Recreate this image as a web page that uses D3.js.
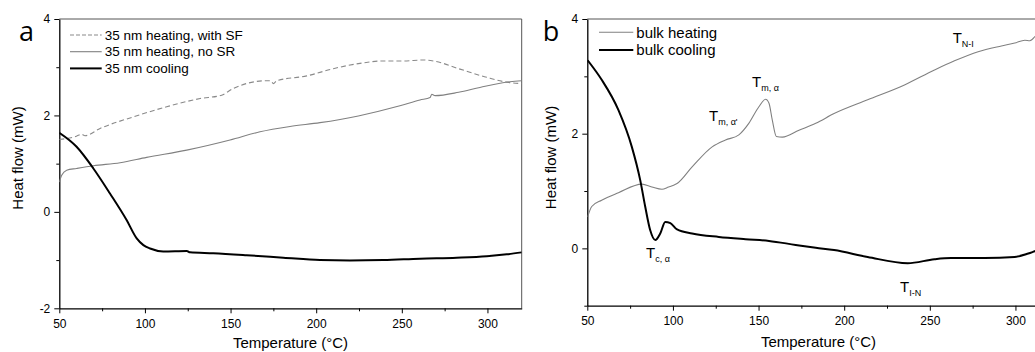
<!DOCTYPE html>
<html><head><meta charset="utf-8">
<script src="https://cdn.jsdelivr.net/npm/d3@7"></script>
<style>
body{margin:0;background:#fff;}
text{font-family:"Liberation Sans",Arial,sans-serif;fill:#000;}
</style></head>
<body><svg id="c" width="1035" height="352"></svg>
<script>
// ---- Panel a data (Temperature °C, Heat flow mW)
const aCoolT = [50,60.1,69.9,79.6,89.3,95.2,99.1,103,110.7,124.4,126.3,139.9,159.4,180.8,202.2,219.7,239.2,260.6,282,299.6,311.3,320];
const aCoolH = [1.64,1.35,0.90,0.38,-0.17,-0.55,-0.69,-0.76,-0.82,-0.81,-0.84,-0.86,-0.90,-0.95,-1.00,-1.01,-1.00,-0.97,-0.95,-0.92,-0.88,-0.84];
const aNoSRT = [50,51.4,54.3,60.1,69.9,85.5,101,124.4,149.7,167.2,184.7,202.2,224.6,248.9,260.6,266.5,267.5,269.4,283.2,295.6,313.2,320];
const aNoSRH = [0.62,0.76,0.865,0.90,0.955,1.02,1.13,1.28,1.49,1.66,1.77,1.85,1.99,2.20,2.32,2.37,2.44,2.41,2.48,2.58,2.70,2.72];
const aSFT = [50,60,63,65,73.8,93.2,112.7,132.2,144.8,151.6,171.1,173.5,175,177,194.5,210,225.6,239.2,250.9,262.6,268.4,284,299.6,311.3,320];
const aSFH = [1.50,1.57,1.61,1.58,1.73,1.97,2.18,2.35,2.42,2.56,2.72,2.72,2.66,2.72,2.82,2.97,3.08,3.13,3.13,3.15,3.13,2.96,2.79,2.69,2.66];
// ---- Panel b data
const bHeatT = [50.2,52.6,58.4,68.2,81.9,87.7,93.6,97.5,100.4,102.4,111.2,122.9,130.7,138.5,144.3,150.2,154.1,156.1,158,160.4,163.9,173.6,183.4,194.1,213.7,235.2,252.7,264.4,278.2,291.8,299.6,305.5,308.4,312.3,320];
const bHeatH = [0.55,0.73,0.84,0.97,1.12,1.07,1.03,1.07,1.10,1.13,1.42,1.77,1.89,1.98,2.18,2.47,2.60,2.53,2.24,1.95,1.94,2.06,2.18,2.35,2.59,2.85,3.11,3.27,3.43,3.53,3.58,3.63,3.62,3.72,3.80];
const bCoolT = [50.2,58.4,68.2,76,80.9,83.8,86.7,89.7,92.6,95.5,98.5,102.4,111.2,126.8,142.4,156.1,171.7,183.4,194.1,213.7,237.1,252.7,262.5,282,299.6,307.5,312.3,320];
const bCoolH = [3.28,2.94,2.41,1.77,1.19,0.73,0.32,0.145,0.26,0.46,0.44,0.33,0.26,0.20,0.16,0.13,0.06,0.01,-0.03,-0.15,-0.26,-0.19,-0.17,-0.17,-0.15,-0.09,-0.04,0.02];
// ---- Axis ticks / labels
const xTicks = [50,100,150,200,250,300];
const xMinor = [75,125,175,225,275];
const aYTicks = [4,2,0,-2];
const aYMinor = [3,1,-1];
const bYTicks = [4,2,0];
const bYMinor = [3,1,-1];
const aLegend = ["35 nm heating, with SF","35 nm heating, no SR","35 nm cooling"];
const bLegend = ["bulk heating","bulk cooling"];

const svg = d3.select("#c");
const defs = svg.append("defs");
const fmt = d => String(d);

function panel(o){
  const g = svg.append("g");
  const x = d3.scaleLinear().domain([50,320]).range([o.x0, o.x0+462.4]);
  const y = d3.scaleLinear().domain(o.yDom).range([o.yb, o.yt]);
  defs.append("clipPath").attr("id","clip"+o.id).append("rect")
    .attr("x",o.x0).attr("y",o.yt).attr("width",462.4).attr("height",o.yb-o.yt);
  // frame top/right
  g.append("line").attr("x1",o.x0).attr("x2",o.x0+462.4).attr("y1",o.yt).attr("y2",o.yt).attr("stroke","#555").attr("stroke-width",1);
  g.append("line").attr("x1",o.x0+462.4).attr("x2",o.x0+462.4).attr("y1",o.yt).attr("y2",o.yb).attr("stroke","#555").attr("stroke-width",1);
  // axes
  g.append("g").attr("transform",`translate(0,${o.yb})`)
    .call(d3.axisBottom(x).tickValues(xTicks).tickFormat(fmt).tickSize(5).tickPadding(6).tickSizeOuter(0));
  g.append("g").attr("transform",`translate(0,${o.yb})`)
    .call(d3.axisBottom(x).tickValues(xMinor).tickSize(3).tickFormat("").tickSizeOuter(0))
    .select(".domain").remove();
  g.append("g").attr("transform",`translate(${o.x0},0)`)
    .call(d3.axisLeft(y).tickValues(o.yTicks).tickFormat(fmt).tickSize(5).tickPadding(4).tickSizeOuter(0));
  g.append("g").attr("transform",`translate(${o.x0},0)`)
    .call(d3.axisLeft(y).tickValues(o.yMinor).tickSize(3).tickFormat("").tickSizeOuter(0))
    .select(".domain").remove();
  g.selectAll(".tick text").style("font-size","12px").style("font-family","'Liberation Sans',Arial,sans-serif");
  g.selectAll(".domain").attr("stroke","#000").attr("stroke-width",1.3);
  g.selectAll(".tick line").attr("stroke","#000").attr("stroke-width",1);
  // titles
  g.append("text").attr("x",o.x0+231.2).attr("y",o.xtY).attr("text-anchor","middle").style("font-size","15px").text("Temperature (°C)");
  g.append("text").attr("transform",`translate(${o.ytX},${o.ytY}) rotate(-90)`).attr("text-anchor","middle").style("font-size","15px").text("Heat flow (mW)");
  g.append("text").attr("x",o.lx).attr("y",40.5).style("font-family","'Open Sans',sans-serif").style("font-size","27px").text(o.letter);
  const line = d3.line().x(d=>x(d[0])).y(d=>y(d[1])).curve(d3.curveMonotoneX);
  const plot = g.append("g").attr("clip-path",`url(#clip${o.id})`);
  o.series.forEach(s=>{
    const pts = s.t.map((t,i)=>[t,s.h[i]]);
    plot.append("path").attr("d",line(pts)).attr("fill","none")
      .attr("stroke",s.color).attr("stroke-width",s.w).attr("stroke-dasharray",s.dash||null);
  });
  // legend
  o.series.forEach((s,i)=>{
    const yy = o.legY + i*o.legDy;
    g.append("line").attr("x1",o.legX).attr("x2",o.legX+o.legW).attr("y1",yy).attr("y2",yy)
      .attr("stroke",s.color).attr("stroke-width",s.w).attr("stroke-dasharray",s.dash?"4,2":null);
    g.append("text").attr("x",o.legX+o.legW+3).attr("y",yy).attr("dy","0.35em").style("font-size",o.legFs).text(s.name);
  });
  return {g,x,y};
}

panel({id:"a",x0:59.3,yt:19,yb:308.3,yDom:[-2,4],yTicks:aYTicks,yMinor:aYMinor,
  xtY:348,ytX:23,ytY:158,lx:19,letter:"a",
  legX:70,legW:31.7,legY:35,legDy:16.7,legFs:"13.5px",
  series:[
    {t:aSFT,h:aSFH,color:"#8a8a8a",w:1.1,dash:"5,3",name:aLegend[0]},
    {t:aNoSRT,h:aNoSRH,color:"#808080",w:1.1,name:aLegend[1]},
    {t:aCoolT,h:aCoolH,color:"#000",w:2,name:aLegend[2]}
  ]});

const pb = panel({id:"b",x0:587.3,yt:19,yb:305.7,yDom:[-1,4],yTicks:bYTicks,yMinor:bYMinor,
  xtY:346.7,ytX:556,ytY:157.5,lx:542.7,letter:"b",
  legX:599,legW:34.3,legY:32.3,legDy:17.7,legFs:"15px",
  series:[
    {t:bHeatT,h:bHeatH,color:"#808080",w:1.1,name:bLegend[0]},
    {t:bCoolT,h:bCoolH,color:"#000",w:2,name:bLegend[1]}
  ]});

// annotations in panel b
const ann = [
  {x:752, y:87, main:"T", sub:"m, α"},
  {x:709, y:121, main:"T", sub:"m, α'"},
  {x:646, y:258, main:"T", sub:"c, α"},
  {x:952.7, y:43, main:"T", sub:"N-I"},
  {x:900, y:291.7, main:"T", sub:"I-N"}
];
ann.forEach(a=>{
  const t = pb.g.append("text").attr("x",a.x).attr("y",a.y).style("font-size","15px");
  t.append("tspan").text(a.main);
  t.append("tspan").attr("dy",4).style("font-size","9px").text(a.sub);
});
</script></body></html>
